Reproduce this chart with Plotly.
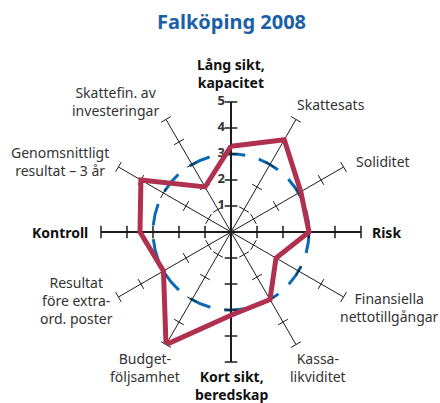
import plotly.graph_objects as go

# ---- data ----
categories = [
    "Lång sikt, kapacitet", "Skattesats", "Soliditet", "Risk",
    "Finansiella nettotillgångar", "Kassalikviditet", "Kort sikt, beredskap",
    "Budgetföljsamhet", "Resultat före extraord. poster", "Kontroll",
    "Genomsnittligt resultat – 3 år", "Skattefin. av investeringar",
]
values = [3.3, 4.1, 3.1, 3.0, 2.0, 3.0, 3.2, 5.0, 3.0, 3.5, 4.0, 2.0]
reference_level = 3
tick_values = [1, 2, 3, 4, 5]
tick_labels = ["1", "2", "3", "4", "5"]
main_axes = ["Lång sikt, kapacitet", "Risk", "Kort sikt, beredskap", "Kontroll"]

title_text = "Falköping 2008"
label_texts = [
    "<b>Lång sikt,<br>kapacitet</b>", "Skattesats", "Soliditet", "<b>Risk</b>",
    "Finansiella<br>nettotillgångar", "Kassa-<br>likviditet", "<b>Kort sikt,<br>beredskap</b>",
    "Budget-<br>följsamhet", "Resultat<br>före extra-<br>ord. poster", "<b>Kontroll</b>",
    "Genomsnittligt<br>resultat – 3 år", "Skattefin. av<br>investeringar",
]
# label placement (pixel centre) and anchoring
label_pos = [
    (231, 74, "center"), (331, 104, "center"), (383, 161, "center"), (370, 232, "left"),
    (389, 307, "center"), (318, 367, "center"), (231, 385, "center"),
    (145, 367, "center"), (76, 300, "center"), (90, 232, "right"),
    (60, 161, "center"), (115, 102, "center"),
]

W, H = 440, 403
CX, CY, R = 231, 232, 130

RED = "#b0304f"
BLUE = "#0a6ab4"
TITLE_BLUE = "#1a5fa8"
AX = "#1c1c1c"
TXT = "#333333"
FONT = "Noto Sans"

fig = go.Figure()

n = len(categories)
for i, cat in enumerate(categories):
    is_main = cat in main_axes
    fig.add_trace(go.Scatterpolar(
        r=[0, tick_values[-1]], theta=[cat, cat], mode="lines",
        line=dict(color=AX, width=2 if is_main else 1),
        hoverinfo="skip", showlegend=False,
    ))
    fig.add_trace(go.Scatterpolar(
        r=tick_values, theta=[cat] * len(tick_values), mode="markers",
        marker=dict(symbol="line-ew", size=9 if is_main else 8, angle=i * 360 / n,
                    angleref="up", line=dict(color=AX, width=1.5 if is_main else 1)),
        hoverinfo="skip", showlegend=False,
    ))

# tick numbers on the top axis
fig.add_trace(go.Scatterpolar(
    r=tick_values, theta=[categories[0]] * len(tick_values), mode="markers+text",
    marker=dict(size=8, color="rgba(0,0,0,0)"),
    text=tick_labels, textposition="middle left",
    textfont=dict(family=FONT, size=13, color=TXT, weight="bold"),
    hoverinfo="skip", showlegend=False,
))

# data polygon
fig.add_trace(go.Scatterpolar(
    r=values + values[:1], theta=categories + categories[:1], mode="lines",
    line=dict(color=RED, width=5),
    hoverinfo="skip", showlegend=False,
))

annotations = [dict(
    text=f"<b>{title_text}</b>", x=231 / W, y=1 - 22 / H, xref="paper", yref="paper",
    xanchor="center", yanchor="middle", showarrow=False,
    font=dict(family=FONT, size=20, color=TITLE_BLUE),
)]
for txt, (px, py, anc) in zip(label_texts, label_pos):
    bold = txt.startswith("<b>")
    annotations.append(dict(
        text=txt, x=px / W, y=1 - py / H, xref="paper", yref="paper",
        xanchor=anc, yanchor="middle", showarrow=False, align="center",
        font=dict(family=FONT, size=14, color="#111111" if bold else TXT),
    ))

fig.update_layout(
    width=W, height=H, margin=dict(l=0, r=0, t=0, b=0),
    paper_bgcolor="white", plot_bgcolor="white",
    annotations=annotations,
    polar=dict(
        domain=dict(x=[(CX - R) / W, (CX + R) / W], y=[1 - (CY + R) / H, 1 - (CY - R) / H]),
        bgcolor="rgba(0,0,0,0)",
        radialaxis=dict(range=[0, 5], showline=False, showticklabels=False, ticks="",
                        tickvals=[reference_level], showgrid=True, gridcolor=BLUE,
                        gridwidth=3, griddash="22px,14px"),
        angularaxis=dict(type="category", categoryarray=categories, rotation=90,
                         direction="clockwise", showline=False, showgrid=False,
                         showticklabels=False, ticks=""),
    ),
)

fig.write_html(
    "out.html",
    config={"displayModeBar": False},
    post_script="document.body.style.margin='0';document.body.style.padding='0';",
)
